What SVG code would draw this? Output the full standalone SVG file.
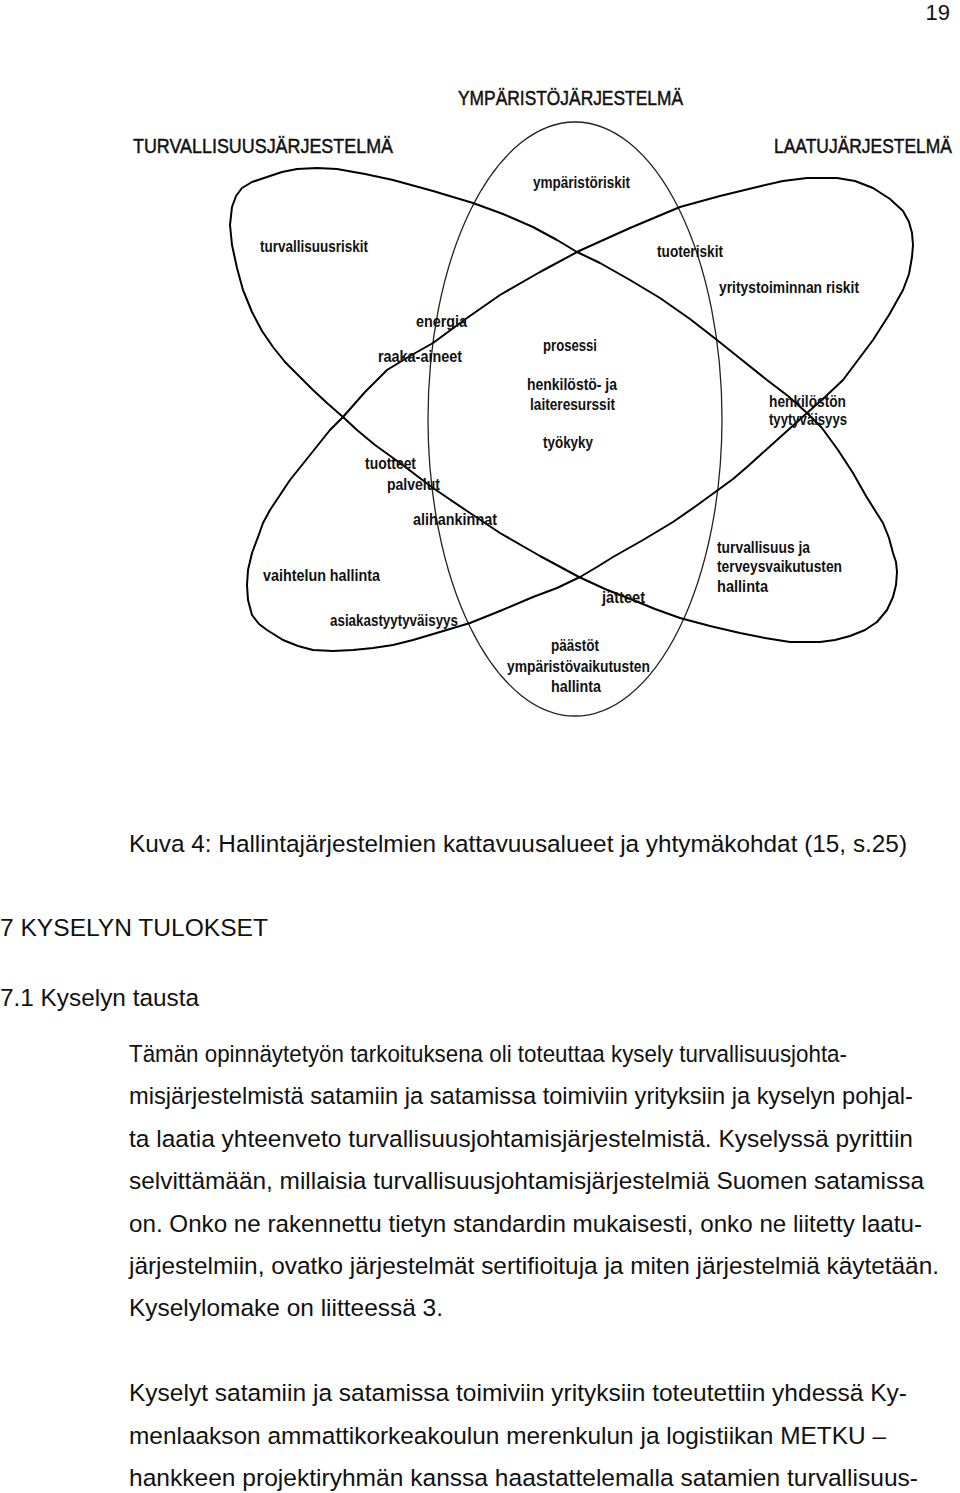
<svg xmlns="http://www.w3.org/2000/svg" width="960" height="1493" viewBox="0 0 960 1493">
<style>
.bg{fill:#fff}
.ell{fill:none;stroke:#222;stroke-width:1.3}
.loop{fill:none;stroke:#000;stroke-width:2;stroke-linejoin:round;stroke-linecap:round}
.lbl{font-family:"Liberation Sans",Arial,sans-serif;font-weight:bold;font-size:16px;fill:#111}
.hdr{font-family:"Liberation Sans",Arial,sans-serif;font-size:21px;fill:#111;stroke:#111;stroke-width:0.5}
.body{font-family:"Liberation Sans",Arial,sans-serif;font-size:24.5px;fill:#111}
</style>
<rect class="bg" x="0" y="0" width="960" height="1493"/>
<text class="body" x="950" y="20" text-anchor="end" style="font-size:22px">19</text>

<g id="connectors">
<g id="ellipse-ymparisto"><ellipse class="ell" cx="575" cy="419" rx="147" ry="297"/></g>
<g id="loop-turvallisuus"><polyline class="loop" points="343,417 327,403 313,390 298,375 285,362 273,347 262,331 252,312 243,290 237,268 232,245 230,225 232,207 236,196 242,188 252,182 267,177 282,172 297,169 317,168 337,169 365,174 393,180 433,191 473,203 503,214 533,227 557,240 577,252 600,263 630,280 660,298 690,319 717,340 742,360 767,380 788,396 807,413 822,428 838,450 853,473 866,496 876,512 883,523 889,538 893,553 896,562 897,572 896,585 893,597 887,610 877,622 865,630 850,636 835,640 820,642 805,642 790,642 765,638 740,633 710,626 680,618 655,609 633,600 605,589 579,577 540,556 500,533 467,511 433,488 400,463 375,445 357,430 343,417"/></g>
<g id="loop-laatu"><polyline class="loop" points="807,413 825,397 843,380 858,360 873,340 889,315 903,290 909,274 912,257 913,245 912,233 909,222 903,211 890,199 873,188 855,181 837,178 822,178 807,178 783,181 757,187 720,196 680,207 630,228 579,251 540,272 500,295 467,318 433,343 410,356 387,370 365,392 343,417 330,430 310,455 290,480 280,495 270,510 263,523 258,537 252,553 248,570 247,585 248,600 252,615 259,624 267,630 283,640 298,646 313,650 333,651 353,650 373,648 393,645 413,640 440,632 470,623 500,611 533,597 557,588 580,577 597,567 613,557 643,540 673,522 696,506 718,490 733,479 747,467 777,440 807,413"/></g>
</g>

<g id="hdr-ymparisto"><text class="hdr" x="458" y="105" textLength="225" lengthAdjust="spacingAndGlyphs">YMPÄRISTÖJÄRJESTELMÄ</text></g>
<g id="hdr-turvallisuus"><text class="hdr" x="133" y="153" textLength="260" lengthAdjust="spacingAndGlyphs">TURVALLISUUSJÄRJESTELMÄ</text></g>
<g id="hdr-laatu" transform="translate(774,153) scale(0.824,1)"><text class="hdr" x="0" y="0" textLength="216" lengthAdjust="spacingAndGlyphs">LAATUJÄRJESTELMÄ</text></g>

<g id="n-ymparistoriskit"><text class="lbl" x="533" y="188" textLength="97" lengthAdjust="spacingAndGlyphs">ympäristöriskit</text></g>
<g id="n-turvallisuusriskit"><text class="lbl" x="260" y="252" textLength="108" lengthAdjust="spacingAndGlyphs">turvallisuusriskit</text></g>
<g id="n-tuoteriskit"><text class="lbl" x="657" y="257" textLength="66" lengthAdjust="spacingAndGlyphs">tuoteriskit</text></g>
<g id="n-yritystoiminnan"><text class="lbl" x="719" y="293" textLength="140" lengthAdjust="spacingAndGlyphs">yritystoiminnan riskit</text></g>
<g id="n-energia"><text class="lbl" x="416" y="327" textLength="51" lengthAdjust="spacingAndGlyphs">energia</text></g>
<g id="n-raaka-aineet"><text class="lbl" x="378" y="362" textLength="84" lengthAdjust="spacingAndGlyphs">raaka-aineet</text></g>
<g id="n-prosessi"><text class="lbl" x="543" y="351" textLength="54" lengthAdjust="spacingAndGlyphs">prosessi</text></g>
<g id="n-henkilosto"><text class="lbl" x="527" y="390" textLength="90" lengthAdjust="spacingAndGlyphs">henkilöstö- ja</text><text class="lbl" x="530" y="410" textLength="85" lengthAdjust="spacingAndGlyphs">laiteresurssit</text></g>
<g id="n-tyokyky"><text class="lbl" x="543" y="448" textLength="50" lengthAdjust="spacingAndGlyphs">työkyky</text></g>
<g id="n-henkiloston"><text class="lbl" x="769" y="407" textLength="77" lengthAdjust="spacingAndGlyphs">henkilöstön</text><text class="lbl" x="769" y="425" textLength="78" lengthAdjust="spacingAndGlyphs">tyytyväisyys</text></g>
<g id="n-tuotteet"><text class="lbl" x="365" y="469" textLength="51" lengthAdjust="spacingAndGlyphs">tuotteet</text></g>
<g id="n-palvelut"><text class="lbl" x="387" y="490" textLength="53" lengthAdjust="spacingAndGlyphs">palvelut</text></g>
<g id="n-alihankinnat"><text class="lbl" x="413" y="525" textLength="84" lengthAdjust="spacingAndGlyphs">alihankinnat</text></g>
<g id="n-vaihtelun"><text class="lbl" x="263" y="581" textLength="117" lengthAdjust="spacingAndGlyphs">vaihtelun hallinta</text></g>
<g id="n-asiakas"><text class="lbl" x="330" y="626" textLength="128" lengthAdjust="spacingAndGlyphs">asiakastyytyväisyys</text></g>
<g id="n-terveys"><text class="lbl" x="717" y="553" textLength="93" lengthAdjust="spacingAndGlyphs">turvallisuus ja</text><text class="lbl" x="717" y="572" textLength="125" lengthAdjust="spacingAndGlyphs">terveysvaikutusten</text><text class="lbl" x="717" y="592" textLength="51" lengthAdjust="spacingAndGlyphs">hallinta</text></g>
<g id="n-jatteet"><text class="lbl" x="602" y="603" textLength="43" lengthAdjust="spacingAndGlyphs">jätteet</text></g>
<g id="n-paastot"><text class="lbl" x="551" y="651" textLength="48" lengthAdjust="spacingAndGlyphs">päästöt</text><text class="lbl" x="507" y="672" textLength="143" lengthAdjust="spacingAndGlyphs">ympäristövaikutusten</text><text class="lbl" x="551" y="692" textLength="50" lengthAdjust="spacingAndGlyphs">hallinta</text></g>

<g id="body-text">
<text class="body" x="129" y="852" textLength="778" lengthAdjust="spacingAndGlyphs">Kuva 4: Hallintajärjestelmien kattavuusalueet ja yhtymäkohdat (15, s.25)</text>
<text class="body" x="0" y="936" textLength="268" lengthAdjust="spacingAndGlyphs">7 KYSELYN TULOKSET</text>
<text class="body" x="0" y="1006" textLength="199" lengthAdjust="spacingAndGlyphs">7.1 Kyselyn tausta</text>
<text class="body" x="129" y="1062" textLength="718" lengthAdjust="spacingAndGlyphs">Tämän opinnäytetyön tarkoituksena oli toteuttaa kysely turvallisuusjohta-</text>
<text class="body" x="129" y="1104.4" textLength="784" lengthAdjust="spacingAndGlyphs">misjärjestelmistä satamiin ja satamissa toimiviin yrityksiin ja kyselyn pohjal-</text>
<text class="body" x="129" y="1146.8" textLength="784" lengthAdjust="spacingAndGlyphs">ta laatia yhteenveto turvallisuusjohtamisjärjestelmistä. Kyselyssä pyrittiin</text>
<text class="body" x="129" y="1189.2" textLength="795" lengthAdjust="spacingAndGlyphs">selvittämään, millaisia turvallisuusjohtamisjärjestelmiä Suomen satamissa</text>
<text class="body" x="129" y="1231.6" textLength="793" lengthAdjust="spacingAndGlyphs">on. Onko ne rakennettu tietyn standardin mukaisesti, onko ne liitetty laatu-</text>
<text class="body" x="129" y="1274" textLength="810" lengthAdjust="spacingAndGlyphs">järjestelmiin, ovatko järjestelmät sertifioituja ja miten järjestelmiä käytetään.</text>
<text class="body" x="129" y="1316.4" textLength="314" lengthAdjust="spacingAndGlyphs">Kyselylomake on liitteessä 3.</text>
<text class="body" x="129" y="1401.2" textLength="778" lengthAdjust="spacingAndGlyphs">Kyselyt satamiin ja satamissa toimiviin yrityksiin toteutettiin yhdessä Ky-</text>
<text class="body" x="129" y="1443.6" textLength="757" lengthAdjust="spacingAndGlyphs">menlaakson ammattikorkeakoulun merenkulun ja logistiikan METKU –</text>
<text class="body" x="129" y="1486" textLength="789" lengthAdjust="spacingAndGlyphs">hankkeen projektiryhmän kanssa haastattelemalla satamien turvallisuus-</text>
</g>
</svg>
